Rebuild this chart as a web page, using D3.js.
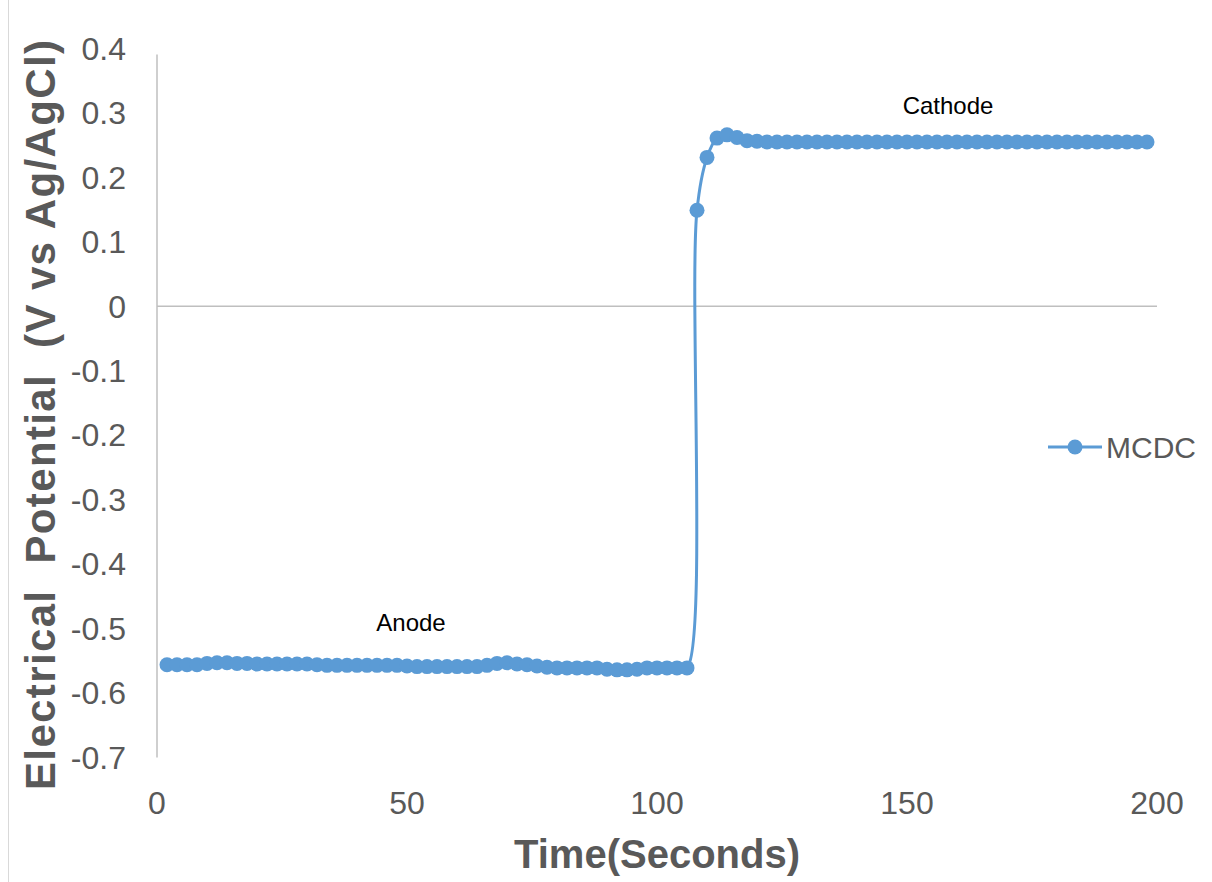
<!DOCTYPE html>
<html><head><meta charset="utf-8">
<script src="https://cdn.jsdelivr.net/npm/d3@7"></script>
<style>body{margin:0;background:#fff}svg{display:block}</style>
</head><body>
<script>
// Data
const timesAnode = [2,4,6,8,10,12,14,16,18,20,22,24,26,28,30,32,34,36,38,40,42,44,46,48,50,52,54,56,58,60,62,64,66,68,70,72,74,76,78,80,82,84,86,88,90,92,94,96,98,100,102,104,106];
const valuesAnode = [-0.556,-0.556,-0.556,-0.556,-0.554,-0.553,-0.553,-0.554,-0.554,-0.555,-0.555,-0.555,-0.555,-0.555,-0.555,-0.556,-0.557,-0.557,-0.557,-0.557,-0.557,-0.557,-0.557,-0.557,-0.558,-0.559,-0.559,-0.559,-0.559,-0.559,-0.559,-0.559,-0.557,-0.554,-0.553,-0.555,-0.556,-0.558,-0.560,-0.561,-0.561,-0.561,-0.561,-0.561,-0.563,-0.564,-0.564,-0.563,-0.561,-0.561,-0.561,-0.561,-0.561];
const timesCathode = [108,110,112,114,116,118,120,122,124,126,128,130,132,134,136,138,140,142,144,146,148,150,152,154,156,158,160,162,164,166,168,170,172,174,176,178,180,182,184,186,188,190,192,194,196,198];
const valuesCathode = [0.149,0.231,0.261,0.266,0.262,0.257,0.256,0.255,0.255,0.255,0.255,0.255,0.255,0.255,0.255,0.255,0.255,0.255,0.255,0.255,0.255,0.255,0.255,0.255,0.255,0.255,0.255,0.255,0.255,0.255,0.255,0.255,0.255,0.255,0.255,0.255,0.255,0.255,0.255,0.255,0.255,0.255,0.255,0.255,0.255,0.255];
const xTicks = [0,50,100,150,200];
const xTickLabels = ["0","50","100","150","200"];
const yTicks = [0.4,0.3,0.2,0.1,0,-0.1,-0.2,-0.3,-0.4,-0.5,-0.6,-0.7];
const yTickLabels = ["0.4","0.3","0.2","0.1","0","-0.1","-0.2","-0.3","-0.4","-0.5","-0.6","-0.7"];
const seriesName = "MCDC";
const annotations = [{text:"Anode", t:50.8, v:-0.503},{text:"Cathode", t:158.2, v:0.298}];
const yTitleWords = ["Electrical", "Potential", "(V vs Ag/AgCl)"];

const times = timesAnode.concat(timesCathode);
const values = valuesAnode.concat(valuesCathode);
const data = times.map((t,i)=>({t, v: values[i]}));

const W = 1212, H = 882;
const color = "#5B9BD5", txt = "#595959";
const font = "Liberation Sans, Arial, sans-serif";
const svg = d3.select("body").append("svg").attr("width", W).attr("height", H);

const x = d3.scaleLinear().domain([0,200]).range([157,1157]);
const y = d3.scaleLinear().domain([-0.7,0.4]).range([757.5,48.5]);

// left border line of chart area
svg.append("line").attr("x1",8.5).attr("x2",8.5).attr("y1",0).attr("y2",H).attr("stroke","#d9d9d9").attr("stroke-width",1);

// vertical axis line
svg.append("line").attr("x1",x(0)).attr("x2",x(0)).attr("y1",y(0.4)+6).attr("y2",y(-0.7)).attr("stroke","#bfbfbf").attr("stroke-width",1.5);
// horizontal axis at zero
svg.append("line").attr("x1",x(0)).attr("x2",x(200)).attr("y1",y(0)).attr("y2",y(0)).attr("stroke","#bfbfbf").attr("stroke-width",1.5);

// y tick labels
svg.append("g").selectAll("text").data(yTicks).join("text")
  .attr("x",126).attr("y",d=>y(d)).attr("dy","0.35em").attr("text-anchor","end")
  .attr("font-family",font).attr("font-size",32).attr("fill",txt)
  .text((d,i)=>yTickLabels[i]);

// x tick labels
svg.append("g").selectAll("text").data(xTicks).join("text")
  .attr("x",d=>x(d)).attr("y",814).attr("text-anchor","middle")
  .attr("font-family",font).attr("font-size",32).attr("fill",txt)
  .text((d,i)=>xTickLabels[i]);

// axis titles
svg.append("text").attr("x",657).attr("y",868).attr("text-anchor","middle")
  .attr("font-family",font).attr("font-weight","bold").attr("font-size",40).attr("fill",txt)
  .text("Time(Seconds)");
svg.append("text").attr("transform","translate(55,415) rotate(-90)").attr("text-anchor","middle")
  .attr("font-family",font).attr("font-weight","bold").attr("font-size",42).attr("fill",txt)
  .attr("textLength",750).attr("lengthAdjust","spacing")
  .attr("xml:space","preserve").style("white-space","pre")
  .text(yTitleWords.join("  "));

// line
const line = d3.line().x(d=>x(d.t)).y(d=>y(d.v)).curve(d3.curveCatmullRom.alpha(0.5));
svg.append("path").datum(data).attr("d",line).attr("fill","none").attr("stroke",color).attr("stroke-width",3);
svg.append("g").selectAll("circle").data(data).join("circle")
  .attr("cx",d=>x(d.t)).attr("cy",d=>y(d.v)).attr("r",7.5).attr("fill",color);

// annotations
svg.append("g").selectAll("text").data(annotations).join("text")
  .attr("x",d=>x(d.t)).attr("y",d=>y(d.v)).attr("text-anchor","middle")
  .attr("font-family",font).attr("font-size",24).attr("fill","#000")
  .text(d=>d.text);

// legend
const lg = svg.append("g");
lg.append("line").attr("x1",1048).attr("x2",1102).attr("y1",447).attr("y2",447).attr("stroke",color).attr("stroke-width",3);
lg.append("circle").attr("cx",1075).attr("cy",447).attr("r",7.5).attr("fill",color);
lg.append("text").attr("x",1106).attr("y",458).attr("font-family",font).attr("font-size",30).attr("fill",txt).text(seriesName);
</script>
</body></html>
